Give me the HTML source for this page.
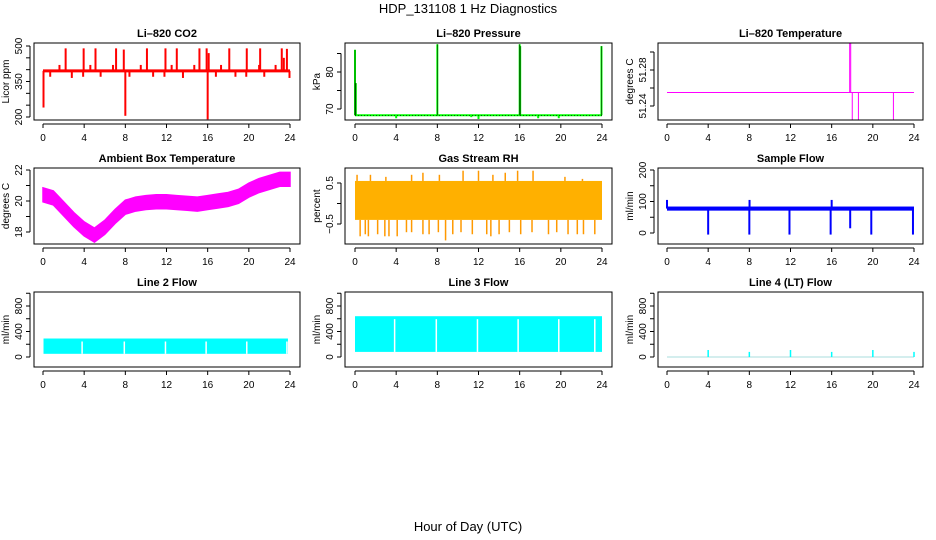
<!DOCTYPE html>
<html><head><meta charset="utf-8">
<style>
html,body{margin:0;padding:0;background:#fff;}
svg{display:block;font-family:"Liberation Sans",Arial,sans-serif;}
.tl{font-size:10px;fill:#000;}
.pt{font-size:11px;font-weight:bold;fill:#000;}
</style></head>
<body>
<svg id="chart" width="936" height="540" viewBox="0 0 936 540">
<text x="468" y="13" text-anchor="middle" font-size="13">HDP_131108  1 Hz Diagnostics</text>
<text x="468" y="531" text-anchor="middle" font-size="13">Hour of Day (UTC)</text>
</svg>
<script>
// ---- data ----
const xTicks = [0,4,8,12,16,20,24];
// CO2
const co2Base = 395;
const co2SpikeHours = [2.2,3.95,5.1,7.1,7.85,10.1,11.9,13.0,15.2,15.9,16.1,18.1,19.8,21.1,23.2,23.7,1.6,4.6,6.8,9.5,12.5,14.7,17.3,21.0,22.6,23.4,0.7,2.8,3.9,5.6,8.4,10.7,11.8,13.6,16.8,18.7,19.75,21.5,23.95,0.05,8.0,16.0];
const co2SpikeValues = [490,490,490,490,485,490,490,490,490,490,470,490,490,490,490,488,420,420,420,420,420,420,420,420,420,450,370,365,370,370,370,370,370,365,370,370,370,370,365,240,205,190];
// Pressure
const presBase = 68.3;
const presSpikeHours = [0.0,0.08,8.0,16.0,16.05,23.95,4.0,11.3,12.0,17.8,19.8];
const presSpikeValues = [86,77,87.5,87.5,87,87,67.5,67.8,67.3,67.5,67.5];
// Li-820 temperature
const tempBase = 51.255;
const tempSpikeHours = [17.75,17.85,18.0,18.6,22.0];
const tempSpikeValues = [51.31,51.31,51.225,51.225,51.225];
// Ambient box temperature (hourly centre)
const ambHours = [0,1,2,3,4,5,6,7,8,9,10,11,12,13,14,15,16,17,18,19,20,21,22,23,24];
const ambCenter = [20.4,20.2,19.5,18.8,18.2,17.8,18.3,19.0,19.6,19.8,19.9,19.95,19.95,19.9,19.85,19.8,19.9,20.0,20.1,20.3,20.7,21.0,21.2,21.4,21.4];
const ambHalf = 0.45;
// Gas stream RH
const rhLow = -0.4, rhHigh = 0.55;
const rhDipHours = [0.5,1.0,1.3,2.2,2.9,3.3,4.1,5.0,5.5,6.6,7.2,8.1,8.8,9.5,10.3,11.4,12.8,13.2,14.0,15.0,16.1,17.2,18.8,19.6,20.7,21.6,22.2,23.3];
const rhDipValues = [-0.8,-0.75,-0.8,-0.75,-0.8,-0.8,-0.8,-0.7,-0.7,-0.75,-0.75,-0.7,-0.9,-0.75,-0.7,-0.75,-0.75,-0.8,-0.75,-0.7,-0.75,-0.7,-0.75,-0.7,-0.75,-0.75,-0.75,-0.75];
const rhPeakHours = [0.2,1.5,3.0,5.5,6.6,8.2,10.5,12.0,13.4,14.6,15.8,17.3,20.4,22.1];
const rhPeakValues = [0.7,0.7,0.65,0.7,0.75,0.7,0.8,0.8,0.7,0.75,0.8,0.8,0.65,0.6];
// Sample flow
const flowLow = 71, flowHigh = 84;
const flowSpikeHours = [0.0,4.0,8.0,8.02,11.9,15.9,16.0,17.8,19.85,23.9];
const flowSpikeValues = [105,-5,-5,105,-5,-5,105,15,-5,-5];
// Line 2 flow
const l2Low = 50, l2High = 290, l2Start = 0.05, l2End = 23.8;
const l2GapHours = [3.8,7.9,11.9,15.85,19.8,23.7];
// Line 3 flow
const l3Low = 80, l3High = 640, l3Start = 0.0, l3End = 24.0;
const l3GapHours = [3.85,7.9,11.9,15.85,19.8,23.3];
// Line 4 flow
const l4SpikeHours = [4,8,12,16,20,24];
const l4SpikeValues = [110,80,110,80,110,80];

// ---- drawing ----
const NS = "http://www.w3.org/2000/svg";
const svg = document.getElementById("chart");
function mk(tag, attrs, parent){
  const e = document.createElementNS(NS, tag);
  for (const k in attrs) e.setAttribute(k, attrs[k]);
  (parent||svg).appendChild(e);
  return e;
}
function panel(o){
  const g = mk("g", {});
  
  
  const sx = h => o.x0 + h/24*(o.x24-o.x0);
  const sy = v => o.yA + (v-o.vA)*(o.yB-o.yA)/(o.vB-o.vA);
  const clip = mk("clipPath", {id:"c"+o.id}, g);
  mk("rect",{x:o.L,y:o.T,width:o.R-o.L,height:o.B-o.T},clip);
  const plot = mk("g",{"clip-path":"url(#c"+o.id+")"},g);
  
  
  const box = mk("rect",{x:o.L,y:o.T,width:o.R-o.L,height:o.B-o.T,fill:"none",stroke:"#000","stroke-width":1},g);
  
  
  mk("line",{x1:sx(0),x2:sx(24),y1:o.B+4,y2:o.B+4,stroke:"#000"},g);
  xTicks.forEach(t=>{
    mk("line",{x1:sx(t),x2:sx(t),y1:o.B+4,y2:o.B+8,stroke:"#000"},g);
    const tx = mk("text",{x:sx(t),y:o.B+21,"text-anchor":"middle",class:"tl"},g);
    tx.textContent = t;
    
    
  });
  const ax = o.L-4;
  mk("line",{x1:ax,x2:ax,y1:sy(o.yTicks[0]),y2:sy(o.yTicks[o.yTicks.length-1]),stroke:"#000"},g);
  o.yTicks.forEach(t=>mk("line",{x1:ax-4,x2:ax,y1:sy(t),y2:sy(t),stroke:"#000"},g));
  o.yLabels.forEach(t=>{
    const y=sy(t), x=ax-8;
    const tx = mk("text",{x:x,y:y,"text-anchor":"middle",class:"tl",transform:"rotate(-90 "+x+" "+y+")"},g);
    tx.textContent = String(t).replace("-","\u2212");
    
    
  });
  const yx = o.L-25, yy=(o.T+o.B)/2;
  const yt = mk("text",{x:yx,y:yy,"text-anchor":"middle",class:"tl",transform:"rotate(-90 "+yx+" "+yy+")"},g);
  yt.textContent = o.ylab;
  
  
  const tt = mk("text",{x:(o.L+o.R)/2,y:o.T-6,"text-anchor":"middle",class:"pt"},g);
  tt.textContent = o.title;
  
  
  o.draw(plot, sx, sy);
}
function spikes(p, sx, sy, base, hs, vs, col, w){
  hs.forEach((h,i)=>{
    const l = mk("line",{x1:sx(h),x2:sx(h),y1:sy(base),y2:sy(vs[i]),stroke:col,"stroke-width":w||2},p);
    
    
  });
}
const row = [{T:43,B:120},{T:168,B:244},{T:292,B:367}];
const col = [{L:34,R:300,x0:43,x24:290},{L:345,R:612,x0:355,x24:602},{L:658,R:923,x0:667,x24:914}];
function P(r,c,o){ return Object.assign({}, row[r], col[c], o, {id:r*3+c}); }

panel(P(0,0,{name:"co2-panel",title:"Li\u2013820 CO2",ylab:"Licor ppm",vA:500,yA:46,vB:200,yB:117,
  yTicks:[200,250,300,350,400,450,500],yLabels:[200,350,500],
  draw:(p,sx,sy)=>{
    mk("line",{x1:sx(0),x2:sx(24),y1:sy(co2Base),y2:sy(co2Base),stroke:"#ff0000","stroke-width":3},p);
    spikes(p,sx,sy,co2Base,co2SpikeHours,co2SpikeValues,"#ff0000",2);
  }}));
panel(P(0,1,{name:"pressure-panel",title:"Li\u2013820 Pressure",ylab:"kPa",vA:70,yA:109,vB:80,yB:72,
  yTicks:[70,75,80,85],yLabels:[70,80],
  draw:(p,sx,sy)=>{
    mk("line",{x1:sx(0),x2:sx(24),y1:sy(presBase),y2:sy(presBase),stroke:"#00ff00","stroke-width":2},p);
    spikes(p,sx,sy,presBase,presSpikeHours,presSpikeValues,"#00ff00",2);
    mk("line",{x1:sx(0),x2:sx(24),y1:sy(presBase),y2:sy(presBase),stroke:"#000","stroke-width":0.6,"stroke-dasharray":"1,2"},p);
    spikes(p,sx,sy,presBase,presSpikeHours.slice(0,6),presSpikeValues.slice(0,6),"#000",0.5);
  }}));
panel(P(0,2,{name:"li820-temperature-panel",title:"Li\u2013820 Temperature",ylab:"degrees C",vA:51.24,yA:106,vB:51.28,yB:70,
  yTicks:[51.24,51.26,51.28,51.30],yLabels:[51.24,51.28],
  draw:(p,sx,sy)=>{
    mk("line",{x1:sx(0),x2:sx(24),y1:sy(tempBase),y2:sy(tempBase),stroke:"#ff00ff","stroke-width":1},p);
    spikes(p,sx,sy,tempBase,tempSpikeHours,tempSpikeValues,"#ff00ff",1);
  }}));
panel(P(1,0,{name:"ambient-temperature-panel",title:"Ambient Box Temperature",ylab:"degrees C",vA:22,yA:170,vB:18,yB:232,
  yTicks:[18,19,20,21,22],yLabels:[18,20,22],
  draw:(p,sx,sy)=>{
    const up = ambHours.map((h,i)=>sx(h)+","+sy(ambCenter[i]+ambHalf));
    const dn = ambHours.map((h,i)=>sx(h)+","+sy(ambCenter[i]-ambHalf)).reverse();
    mk("polygon",{points:up.concat(dn).join(" "),fill:"#ff00ff",stroke:"#ff00ff","stroke-width":1.5},p);
  }}));
panel(P(1,1,{name:"rh-panel",title:"Gas Stream RH",ylab:"percent",vA:0.5,yA:183,vB:-0.5,yB:224,
  yTicks:[-0.5,0,0.5],yLabels:[-0.5,0.5],
  draw:(p,sx,sy)=>{
    mk("rect",{x:sx(0),y:sy(rhHigh),width:sx(24)-sx(0),height:sy(rhLow)-sy(rhHigh),fill:"#ffb000"},p);
    spikes(p,sx,sy,rhLow,rhDipHours,rhDipValues,"#ff9900",1.5);
    spikes(p,sx,sy,rhHigh,rhPeakHours,rhPeakValues,"#ff9900",1.5);
  }}));
panel(P(1,2,{name:"sample-flow-panel",title:"Sample Flow",ylab:"ml/min",vA:200,yA:170,vB:0,yB:233,
  yTicks:[0,50,100,150,200],yLabels:[0,100,200],
  draw:(p,sx,sy)=>{
    mk("rect",{x:sx(0),y:sy(flowHigh),width:sx(24)-sx(0),height:sy(flowLow)-sy(flowHigh),fill:"#0000ff"},p);
    spikes(p,sx,sy,(flowLow+flowHigh)/2,flowSpikeHours,flowSpikeValues,"#0000ff",2);
  }}));
function bandPanel(r,c,name,title,lo,hi,h0,h1,gaps){
  panel(P(r,c,{name:name,title:title,ylab:"ml/min",vA:0,yA:357,vB:800,yB:306,
    yTicks:[0,200,400,600,800,1000],yLabels:[0,400,800],
    draw:(p,sx,sy)=>{
      mk("rect",{x:sx(h0),y:sy(hi),width:sx(h1)-sx(h0),height:sy(lo)-sy(hi),fill:"#00ffff"},p);
      gaps.forEach(h=>{
        const l = mk("line",{x1:sx(h),x2:sx(h),y1:sy(hi)+3,y2:sy(lo),stroke:"#fff","stroke-width":1.5},p);
        
        
      });
    }}));
}
bandPanel(2,0,"line2-flow-panel","Line 2 Flow",l2Low,l2High,l2Start,l2End,l2GapHours);
bandPanel(2,1,"line3-flow-panel","Line 3 Flow",l3Low,l3High,l3Start,l3End,l3GapHours);
panel(P(2,2,{name:"line4-flow-panel",title:"Line 4 (LT) Flow",ylab:"ml/min",vA:0,yA:357,vB:800,yB:306,
  yTicks:[0,200,400,600,800,1000],yLabels:[0,400,800],
  draw:(p,sx,sy)=>{
    mk("line",{x1:sx(0),x2:sx(24),y1:sy(0),y2:sy(0),stroke:"#aadddd","stroke-width":1},p);
    spikes(p,sx,sy,0,l4SpikeHours,l4SpikeValues,"#00ffff",1.5);
  }}));
</script>
</body></html>
